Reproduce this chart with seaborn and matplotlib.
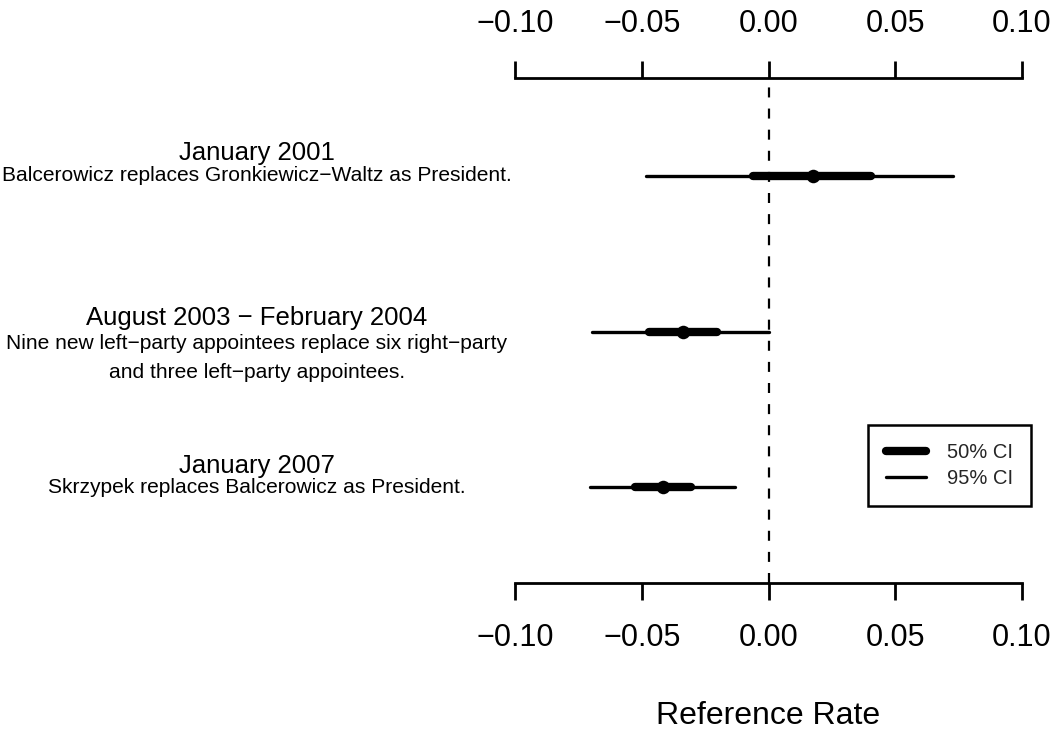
import numpy as np
import pandas as pd
import matplotlib
matplotlib.use("Agg")
import matplotlib.pyplot as plt
import matplotlib.transforms as mtransforms
from matplotlib.lines import Line2D
import seaborn as sns

# ---------------- data ----------------
periods = ["January 2001", "August 2003 \u2212 February 2004", "January 2007"]
descriptions = [
    ["Balcerowicz replaces Gronkiewicz\u2212Waltz as President."],
    ["Nine new left\u2212party appointees replace six right\u2212party",
     "and three left\u2212party appointees."],
    ["Skrzypek replaces Balcerowicz as President."],
]
estimate = [0.0177, -0.0339, -0.0417]
lo95 = [-0.0484, -0.0697, -0.0705]
hi95 = [0.0728, 0.0000, -0.0134]
lo50 = [-0.0063, -0.0472, -0.0528]
hi50 = [0.0406, -0.0205, -0.0307]
xticks = [-0.10, -0.05, 0.00, 0.05, 0.10]
xtick_labels = ["\u22120.10", "\u22120.05", "0.00", "0.05", "0.10"]
legend_labels = ["50% CI", "95% CI"]
xlabel = "Reference Rate"

df = pd.DataFrame({
    "row": [1, 2, 3],
    "period": periods,
    "estimate": estimate,
    "lo95": lo95, "hi95": hi95, "lo50": lo50, "hi50": hi50,
})

# ---------------- style ----------------
sns.set_theme(style="white")
plt.rcParams["font.family"] = ["Liberation Sans", "DejaVu Sans"]

W, H = 1058, 733
fig = plt.figure(figsize=(W / 100, H / 100), dpi=100)
ax = fig.add_axes([515 / W, 1 - 583 / H, 507 / W, 505 / H])

# confidence intervals
ax.hlines(df["row"], df["lo95"], df["hi95"], color="black", lw=2.4,
          capstyle="round", zorder=2)
ax.hlines(df["row"], df["lo50"], df["hi50"], color="black", lw=6,
          capstyle="round", zorder=3)
sns.scatterplot(data=df, x="estimate", y="row", ax=ax, color="black",
                s=95, edgecolor="black", linewidth=0, zorder=4, legend=False)

ax.axvline(0, color="black", lw=1.6, ls=(0, (4.5, 5)), zorder=1)

ax.set_xlim(-0.10, 0.10)
ax.set_ylim(3.617, 0.370)
ax.set_yticks([])
ax.set_ylabel("")

for side in ["left", "right", "top"]:
    ax.spines[side].set_visible(False)
ax.spines["bottom"].set_linewidth(2.0)
ax.spines["bottom"].set_color("black")

ax.set_xticks(xticks)
ax.set_xticklabels(xtick_labels)
ax.tick_params(axis="x", bottom=True, top=False, direction="out", length=12.5,
               width=2.0, color="black", labelsize=22, pad=16.5, labelcolor="black")
ax.set_xlabel(xlabel, fontsize=23, labelpad=34, color="black")

sec = ax.secondary_xaxis("top")
sec.set_xticks(xticks)
sec.set_xticklabels(xtick_labels)
sec.spines["top"].set_linewidth(2.0)
sec.spines["top"].set_color("black")
sec.tick_params(axis="x", direction="out", length=12.5, width=2.0,
                color="black", labelsize=22, pad=15.5, labelcolor="black")

# left-hand labels
trans = mtransforms.blended_transform_factory(fig.transFigure, ax.transData)
xc = 257 / W
title_off = [-0.145, -0.090, -0.136]
sub_offs = [[0.0], [0.077, 0.264], [0.003]]
for r, (per, desc) in enumerate(zip(periods, descriptions)):
    y = df["row"][r]
    ax.text(xc, y + title_off[r], per, transform=trans, ha="center",
            va="center", fontsize=18.5, color="black", clip_on=False)
    for line, off in zip(desc, sub_offs[r]):
        ax.text(xc, y + off, line, transform=trans, ha="center",
                va="center", fontsize=15.1, color="black", clip_on=False)

# legend
handles = [Line2D([0], [0], color="black", lw=6, solid_capstyle="round"),
           Line2D([0], [0], color="black", lw=2.4, solid_capstyle="round")]
leg = ax.legend(handles, legend_labels, loc="upper right",
                bbox_to_anchor=(1031 / W, 1 - 425 / H),
                bbox_transform=fig.transFigure, fontsize=14.5, frameon=True,
                fancybox=False, edgecolor="black", handlelength=1.95,
                handletextpad=1.05, borderpad=0.9, labelspacing=0.35,
                borderaxespad=0)
leg.get_frame().set_linewidth(1.8)
leg.get_frame().set_alpha(None)
leg.get_frame().set_facecolor("white")

fig.savefig("out.png", dpi=100, facecolor="white")
